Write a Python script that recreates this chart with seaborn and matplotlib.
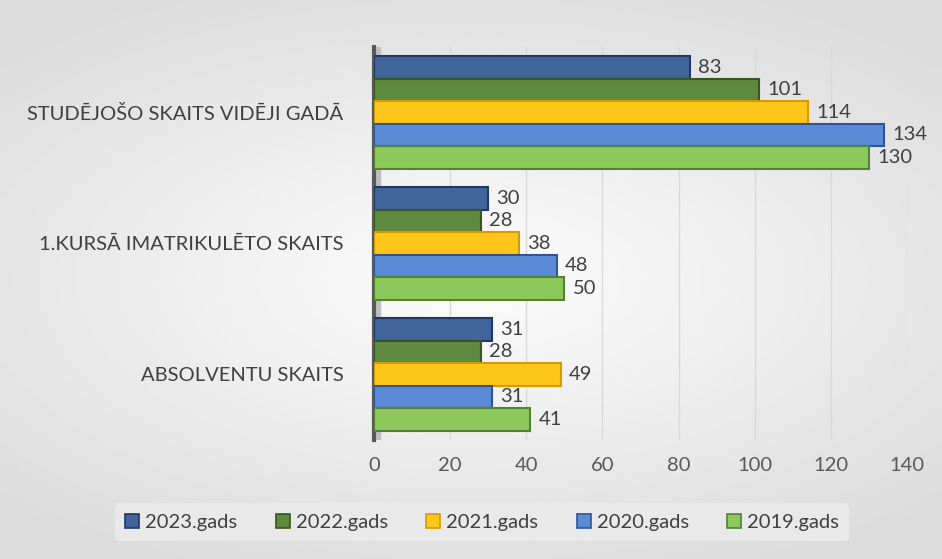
import numpy as np
import pandas as pd
import matplotlib.pyplot as plt
import seaborn as sns

categories = ["STUDĒJOŠO SKAITS VIDĒJI GADĀ", "1.KURSĀ IMATRIKULĒTO SKAITS", "ABSOLVENTU SKAITS"]
years = ["2023.gads", "2022.gads", "2021.gads", "2020.gads", "2019.gads"]
v2023 = [83, 30, 31]
v2022 = [101, 28, 28]
v2021 = [114, 38, 49]
v2020 = [134, 48, 31]
v2019 = [130, 50, 41]
xticks = [0, 20, 40, 60, 80, 100, 120, 140]

fills = ["#41649c", "#5e8a40", "#ffc61a", "#5b8ad6", "#8cc85a"]
edges = ["#1f3864", "#375623", "#d69a00", "#2f5597", "#548235"]

rows = []
for yr, vals in zip(years, [v2023, v2022, v2021, v2020, v2019]):
    for cat, v in zip(categories, vals):
        rows.append({"Kategorija": cat, "Gads": yr, "Skaits": v})
df = pd.DataFrame(rows)

sns.set_style("white")
plt.rcParams["font.family"] = ["Lato", "DejaVu Sans"]

fig = plt.figure(figsize=(9.42, 5.59), dpi=100)

# background gradient
bg = fig.add_axes([0, 0, 1, 1])
yy, xx = np.mgrid[-1:1:200j, -1:1:300j]
r = np.sqrt((xx * 0.9) ** 2 + (yy * 1.1) ** 2)
grad = 0.99 - 0.13 * np.clip(r, 0, 1.3) / 1.3
bg.imshow(grad, cmap="gray", vmin=0, vmax=1, aspect="auto", extent=[0, 1, 0, 1])
bg.set_axis_off()

ax = fig.add_axes([0.397, 0.213, 0.566, 0.703])
ax.patch.set_alpha(0)
sns.barplot(data=df, y="Kategorija", x="Skaits", hue="Gads", order=categories,
            hue_order=years, palette=fills, orient="h", width=0.86, ax=ax,
            saturation=1, zorder=3)

for cont, ec in zip(ax.containers, edges):
    for bar in cont:
        bar.set_edgecolor(ec)
        bar.set_linewidth(1.5)
    ax.bar_label(cont, padding=6, fontsize=14.5, color="#404040")

ax.set_xlim(0, 140)
ax.set_ylim(2.5, -0.5)
ax.set_xticks(xticks)
ax.tick_params(axis="x", labelsize=14.5, labelcolor="#595959", length=0, pad=12)
ax.tick_params(axis="y", labelsize=14.5, labelcolor="#404040", length=0, pad=22)
ax.xaxis.grid(True, color="#d9d9d9", lw=1, zorder=0)
ax.set_xlabel("")
ax.set_ylabel("")
for s in ["top", "right", "bottom"]:
    ax.spines[s].set_visible(False)
ax.spines["left"].set_color("#595959")
ax.spines["left"].set_linewidth(3)
ax.axvspan(0, 1.5, color="#bfbfbf", zorder=1)

handles, labels = ax.get_legend_handles_labels()
ax.legend_.remove()
leg = fig.legend(handles, labels, loc="center", bbox_to_anchor=(0.512, 0.066), ncol=5,
                 frameon=True, fontsize=14.5, handlelength=0.7, handleheight=0.7,
                 handletextpad=0.3, columnspacing=1.9, borderpad=0.5)
leg.get_frame().set_facecolor("#e9e9e9")
leg.get_frame().set_edgecolor("none")
leg.get_frame().set_alpha(1)
for h, ec in zip(leg.legend_handles, edges):
    h.set_edgecolor(ec)
    h.set_linewidth(1.2)
for t in leg.get_texts():
    t.set_color("#404040")

fig.savefig("out.png", dpi=100)
